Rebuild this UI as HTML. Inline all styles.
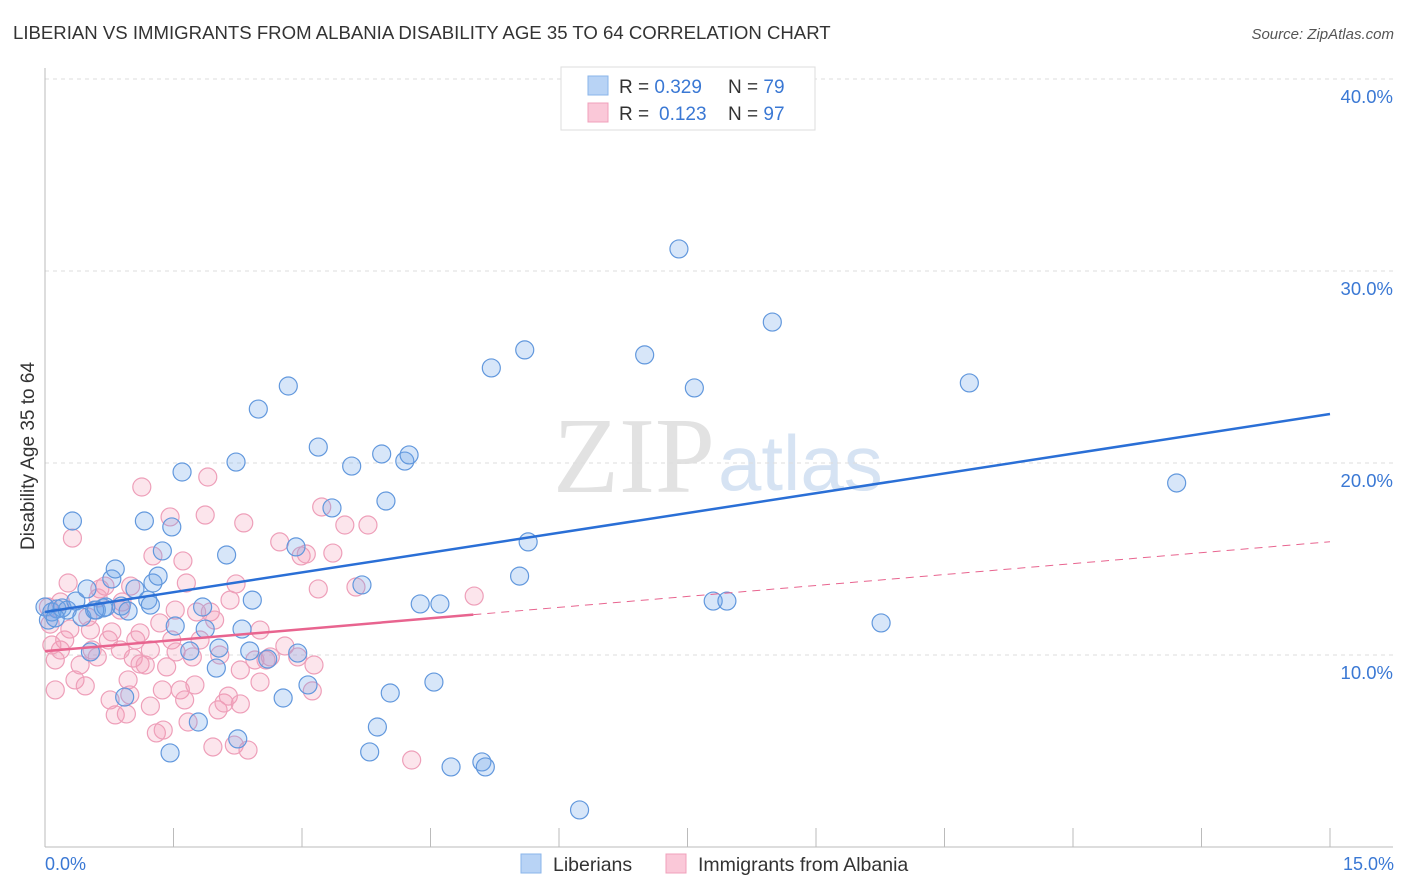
<!DOCTYPE html>
<html><head><meta charset="utf-8"><style>
body{margin:0;background:#fff;font-family:"Liberation Sans",sans-serif;}
#c{position:relative;width:1406px;height:892px;overflow:hidden}
</style></head><body>
<div id="c">
<svg id="s" width="1406" height="892" xmlns="http://www.w3.org/2000/svg">
<text x="13" y="39" font-size="18.6" fill="#333">LIBERIAN VS IMMIGRANTS FROM ALBANIA DISABILITY AGE 35 TO 64 CORRELATION CHART</text>
<text x="1394" y="39" font-size="15" fill="#555" font-style="italic" text-anchor="end">Source: ZipAtlas.com</text>
<text x="715" y="492" font-size="108" fill="#e2e2e2" font-family="Liberation Serif,serif" text-anchor="end">ZIP</text>
<text x="718" y="490" font-size="78" fill="#d6e3f3">atlas</text>
<text transform="translate(34,456) rotate(-90)" font-size="19" fill="#333" text-anchor="middle">Disability Age 35 to 64</text>
<g id="grid"></g><g id="pts"></g><g id="lines"></g>
<g>
<rect x="561" y="67" width="254" height="63" fill="#fff" stroke="#ddd"/>
<rect x="588" y="76" width="20" height="19" fill="#b8d3f5" stroke="#8ab4ea"/>
<rect x="588" y="103" width="20" height="19" fill="#fac8d8" stroke="#f0a0bb"/>
<text x="619" y="93" font-size="19" fill="#333">R = <tspan fill="#3a78d4">0.329</tspan><tspan x="728">N = </tspan><tspan fill="#3a78d4">79</tspan></text>
<text x="619" y="120" font-size="19" fill="#333">R = <tspan x="659" fill="#3a78d4">0.123</tspan><tspan x="728">N = </tspan><tspan fill="#3a78d4">97</tspan></text>
</g>
<g>
<rect x="521" y="854" width="20" height="19" fill="#b8d3f5" stroke="#8ab4ea"/>
<text x="553" y="871" font-size="19.5" fill="#333">Liberians</text>
<rect x="666" y="854" width="20" height="19" fill="#fac8d8" stroke="#f0a0bb"/>
<text x="698" y="871" font-size="19.5" fill="#333">Immigrants from Albania</text>
</g>
<text x="45" y="870" font-size="18" fill="#3a78d4">0.0%</text>
<text x="1394" y="870" font-size="18" fill="#3a78d4" text-anchor="end">15.0%</text>
</svg></div>
<script>
const yTicks=[10,20,30,40];
const blueX=[0.00,0.08,0.14,0.20,0.26,0.04,0.12,0.32,0.36,0.43,0.49,0.60,0.68,0.71,0.78,0.82,0.89,0.97,1.05,1.16,1.20,1.26,1.32,1.37,1.48,1.52,1.60,1.69,1.79,1.84,1.87,2.00,2.03,2.12,2.23,2.25,2.30,2.39,2.42,2.49,2.60,2.78,2.84,2.93,2.95,3.07,3.19,3.35,3.58,3.70,3.88,3.93,3.98,4.03,3.79,4.20,4.25,4.38,4.54,4.61,4.74,5.10,5.14,5.21,5.60,5.54,5.64,6.24,7.00,7.40,7.58,7.80,7.96,8.49,9.76,10.79,13.21,0.58,1.23,1.46,0.93,0.53];
const blueY=[12.50,12.24,12.40,12.45,12.34,11.82,11.93,16.98,12.81,11.98,13.44,12.34,12.45,12.50,13.96,14.48,12.55,12.29,13.44,16.98,12.86,13.75,14.11,15.42,16.67,11.51,19.53,10.21,6.51,12.50,11.35,9.32,10.36,15.21,20.05,5.63,11.35,10.21,12.86,22.81,9.79,7.76,24.01,15.63,10.10,8.44,20.83,17.66,19.84,13.65,6.25,20.47,18.02,8.02,4.95,20.10,20.42,12.66,8.59,12.66,4.17,4.43,4.17,24.95,25.89,14.11,15.89,1.93,25.63,31.15,23.91,12.81,12.81,27.34,11.67,24.17,18.96,12.34,12.60,4.90,7.81,10.16];
const pinkX=[0.06,0.12,0.18,0.23,0.08,0.29,0.32,0.35,0.41,0.47,0.50,0.55,0.61,0.64,0.70,0.74,0.78,0.82,0.88,0.90,0.95,0.97,1.00,1.03,1.06,1.11,1.13,1.17,1.23,1.26,1.30,1.34,1.38,1.42,1.46,1.48,1.53,1.58,1.61,1.65,1.67,1.72,1.75,1.77,1.87,1.90,1.93,1.96,2.02,2.04,2.09,2.14,2.21,2.23,2.28,2.32,2.37,2.45,2.51,2.58,2.63,2.74,2.80,2.95,2.99,3.05,3.12,3.14,3.19,3.23,3.36,3.50,3.63,3.77,4.28,5.01,0.88,1.11,0.62,0.18,0.04,0.27,0.76,0.99,1.52,1.37,1.81,2.16,1.98,2.51,0.53,0.12,1.23,1.63,2.28];
const pinkY=[11.61,9.74,10.26,10.78,10.52,11.35,16.09,8.70,9.48,8.39,11.98,10.26,9.90,13.44,13.59,10.78,11.20,6.88,12.34,12.76,6.93,8.70,13.59,9.84,10.78,9.53,18.75,9.48,7.34,15.16,5.94,11.67,6.09,9.38,17.19,10.78,10.16,8.18,14.90,13.75,6.51,9.90,8.44,12.24,17.29,19.27,12.24,5.21,7.14,10.00,7.50,7.86,5.31,13.70,7.45,16.88,5.05,9.74,8.59,9.74,9.90,15.89,10.47,9.90,15.16,15.26,8.13,9.48,13.44,17.71,15.31,16.77,13.54,16.77,4.53,13.07,10.26,11.15,12.97,12.76,12.50,13.75,7.66,7.92,12.34,8.18,10.78,12.86,11.82,11.30,11.30,8.18,10.26,7.66,9.22];
const blueTrend=[12.24,22.55];
const pinkTrend=[10.2,15.9];
const pinkSolidEnd=5.0;
const NS='http://www.w3.org/2000/svg';
const sx=v=>45+v/15*1285;
const sy=v=>847-v*19.2;
function mk(t,a,p){const e=document.createElementNS(NS,t);for(const k in a)e.setAttribute(k,a[k]);p.appendChild(e);return e;}
const grid=document.getElementById('grid');
yTicks.forEach(t=>{
 const l=mk('line',{x1:45,x2:1393,y1:sy(t),y2:sy(t),stroke:'#ddd','stroke-dasharray':'4,4'},grid);
 
 
 const tx=mk('text',{x:1393,y:sy(t)+24,'font-size':18.5,fill:'#3a78d4','text-anchor':'end'},grid);
 tx.textContent=t.toFixed(1)+'%';
 
 
});
const ax=mk('line',{x1:45,x2:1393,y1:847,y2:847,stroke:'#bbb'},grid);


const ay=mk('line',{x1:45,x2:45,y1:68,y2:847,stroke:'#bbb'},grid);


for(let i=0;i<=10;i++){
 const tk=mk('line',{x1:sx(i*1.5),x2:sx(i*1.5),y1:828,y2:847,stroke:'#bbb'},grid);
 
 
}
const pts=document.getElementById('pts');
pinkX.forEach((x,i)=>{
 const c=mk('circle',{cx:sx(x),cy:sy(pinkY[i]),r:9,fill:'rgba(244,150,180,0.25)',stroke:'#ee9fb9','stroke-width':1.2},pts);
 
 
});
blueX.forEach((x,i)=>{
 const c=mk('circle',{cx:sx(x),cy:sy(blueY[i]),r:9,fill:'rgba(110,165,235,0.28)',stroke:'#6298dd','stroke-width':1.2},pts);
 
 
});
const lines=document.getElementById('lines');
const bl=mk('line',{x1:sx(0),y1:sy(blueTrend[0]),x2:sx(15),y2:sy(blueTrend[1]),stroke:'#2a6fd6','stroke-width':2.5},lines);


const pm=pinkTrend[0]+(pinkTrend[1]-pinkTrend[0])*pinkSolidEnd/15;
const pl=mk('line',{x1:sx(0),y1:sy(pinkTrend[0]),x2:sx(pinkSolidEnd),y2:sy(pm),stroke:'#e8648f','stroke-width':2.5},lines);


const pd=mk('line',{x1:sx(pinkSolidEnd),y1:sy(pm),x2:sx(15),y2:sy(pinkTrend[1]),stroke:'#e8648f','stroke-width':1,'stroke-dasharray':'8,6'},lines);


</script>
</body></html>
